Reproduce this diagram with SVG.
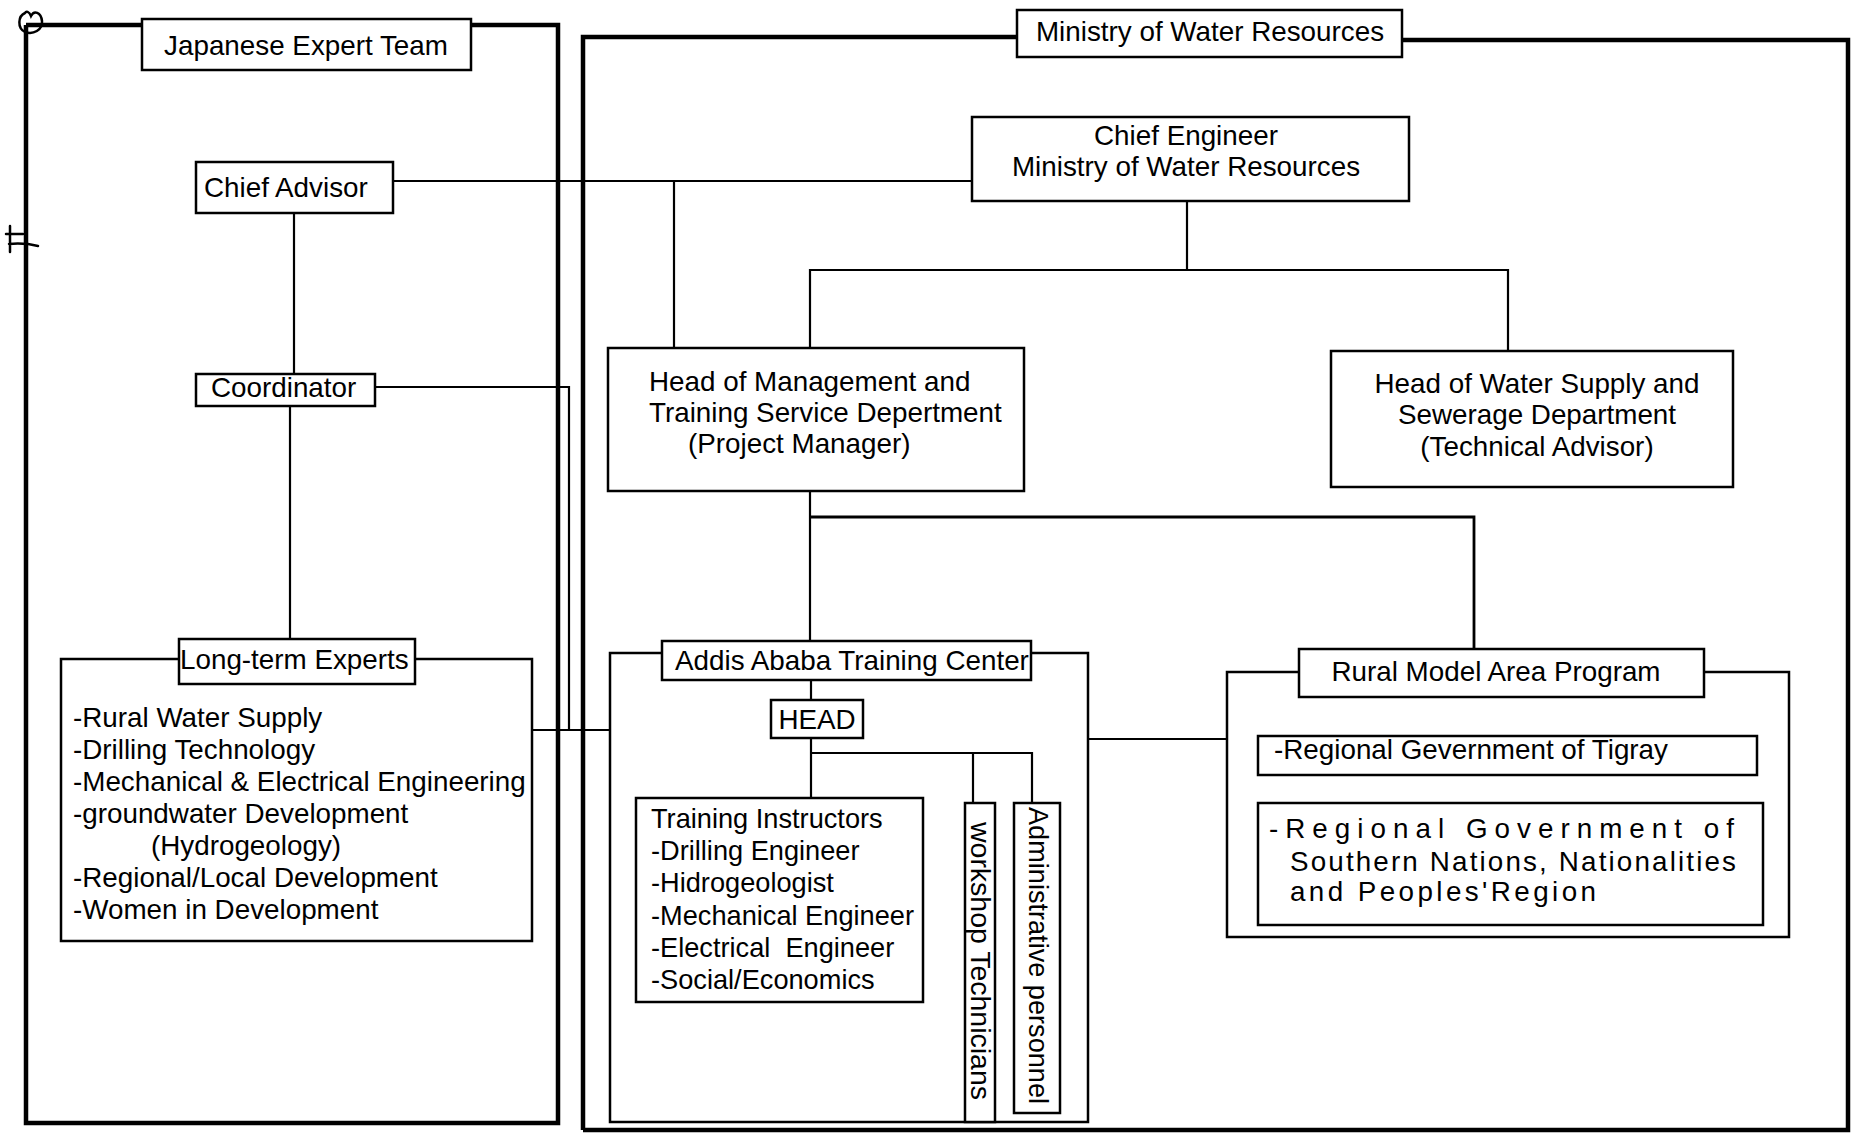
<svg xmlns="http://www.w3.org/2000/svg" width="1854" height="1135" viewBox="0 0 1854 1135">
<style>
  text { font-family: "Liberation Sans", Arial, sans-serif; font-size: 27.8px; fill: #000; }
  .c { text-anchor: middle; }
  .ti { font-size: 27.2px; }
  .box { fill: #fff; stroke: #000; stroke-width: 2.5; }
  .frame { fill: none; stroke: #000; stroke-width: 2.5; }
  .thick { fill: none; stroke: #000; stroke-width: 4.5; }
  .conn { fill: none; stroke: #000; stroke-width: 2.2; }
  .mark { fill: none; stroke: #000; stroke-width: 2.5; stroke-linecap: round; }
</style>
<rect width="1854" height="1135" fill="#fff"/>

<!-- Outer frames -->
<g id="japanese-frame">
  <path class="thick" d="M26 25 H142 M471 25 H558 V1123 H26 V25"/>
</g>
<g id="ministry-frame">
  <path class="thick" d="M583 1130 V37 H1017 M1402 40 H1848 V1130 H583"/>
</g>

<!-- stray pen marks -->
<g id="marks">
  <path class="mark" d="M25 13 C18 16 17 28 25 32 C33 35 43 30 42 21 C41 12 34 10 31 16 C29 11 26 11 25 13"/>
  <path class="mark" d="M10 226 V252 M6 234 H23 M9 244 C20 243 30 244 38 246"/>
</g>

<!-- Connectors -->
<g id="connectors">
  <path class="conn" d="M393 181 H972"/>
  <path class="conn" d="M674 181 V348"/>
  <path class="conn" d="M294 213 V374"/>
  <path class="conn" d="M290 406 V639"/>
  <path class="conn" d="M375 387 H569 V730"/>
  <path class="conn" d="M532 730 H610"/>
  <path class="conn" d="M1187 201 V270"/>
  <path class="conn" d="M810 348 V270 H1508 V351"/>
  <path class="conn" d="M810 491 V641"/>
  <path class="conn" style="stroke-width:2.8" d="M810 517 H1474 V649"/>
  <path class="conn" d="M811 680 V700"/>
  <path class="conn" d="M811 738 V798"/>
  <path class="conn" d="M811 753 H1032 V803"/>
  <path class="conn" d="M973 753 V803"/>
  <path class="conn" d="M1088 739 H1227"/>
</g>

<!-- Japanese side -->
<g id="japanese-expert-team">
  <rect class="box" x="142" y="19" width="329" height="51"/>
  <text class="c" x="306" y="55">Japanese Expert Team</text>
</g>
<g id="chief-advisor">
  <rect class="box" x="196" y="162" width="197" height="51"/>
  <text x="204" y="197">Chief Advisor</text>
</g>
<g id="coordinator">
  <rect class="box" x="196" y="374" width="179" height="32"/>
  <text x="211" y="397">Coordinator</text>
</g>
<g id="long-term-experts">
  <path class="frame" d="M179 659 H61 V941 H532 V659 H415"/>
  <rect class="box" x="179" y="639" width="236" height="45"/>
  <text x="180" y="669">Long-term Experts</text>
  <text x="73" y="727">-Rural Water Supply</text>
  <text x="73" y="759">-Drilling Technology</text>
  <text x="73" y="791">-Mechanical &amp; Electrical Engineering</text>
  <text x="73" y="823">-groundwater Development</text>
  <text x="151" y="855">(Hydrogeology)</text>
  <text x="73" y="887">-Regional/Local Development</text>
  <text x="73" y="919">-Women in Development</text>
</g>

<!-- Ministry side -->
<g id="ministry-of-water-resources">
  <rect class="box" x="1017" y="10" width="385" height="47"/>
  <text class="c" x="1210" y="41">Ministry of Water Resources</text>
</g>
<g id="chief-engineer">
  <rect class="box" x="972" y="117" width="437" height="84"/>
  <text class="c" x="1186" y="145">Chief Engineer</text>
  <text class="c" x="1186" y="176">Ministry of Water Resources</text>
</g>
<g id="head-management">
  <rect class="box" x="608" y="348" width="416" height="143"/>
  <text x="649" y="391">Head of Management and</text>
  <text x="649" y="422">Training Service Depertment</text>
  <text x="688" y="453">(Project Manager)</text>
</g>
<g id="head-water-supply">
  <rect class="box" x="1331" y="351" width="402" height="136"/>
  <text class="c" x="1537" y="393">Head of Water Supply and</text>
  <text class="c" x="1537" y="424">Sewerage Department</text>
  <text class="c" x="1537" y="456">(Technical Advisor)</text>
</g>

<g id="addis-ababa-training-center">
  <path class="frame" d="M662 653 H610 V1122 H1088 V653 H1031"/>
  <rect class="box" x="662" y="641" width="369" height="39"/>
  <text x="675" y="670">Addis Ababa Training Center</text>
</g>
<g id="head">
  <rect class="box" x="771" y="700" width="92" height="38"/>
  <text class="c" x="817" y="729">HEAD</text>
</g>
<g id="training-instructors">
  <rect class="box" x="636" y="798" width="287" height="204"/>
  <text class="ti" x="651" y="828">Training Instructors</text>
  <text class="ti" x="651" y="860">-Drilling Engineer</text>
  <text class="ti" x="651" y="892">-Hidrogeologist</text>
  <text class="ti" x="651" y="925">-Mechanical Engineer</text>
  <text class="ti" x="651" y="957" xml:space="preserve">-Electrical  Engineer</text>
  <text class="ti" x="651" y="989">-Social/Economics</text>
</g>
<g id="workshop-technicians">
  <rect class="box" x="965" y="803" width="30" height="319"/>
  <text transform="translate(971,822) rotate(90)" textLength="278" lengthAdjust="spacingAndGlyphs">workshop Technicians</text>
</g>
<g id="administrative-personnel">
  <rect class="box" x="1014" y="803" width="46" height="310"/>
  <text transform="translate(1029,807) rotate(90)" textLength="297" lengthAdjust="spacingAndGlyphs">Administrative personnel</text>
</g>

<g id="rural-model-area-program">
  <path class="frame" d="M1299 672 H1227 V937 H1789 V672 H1704"/>
  <rect class="box" x="1299" y="649" width="405" height="48"/>
  <text class="c" x="1496" y="681">Rural Model Area Program</text>
</g>
<g id="tigray">
  <rect class="box" x="1258" y="736" width="499" height="39"/>
  <text x="1274" y="759">-Regional Gevernment of Tigray</text>
</g>
<g id="southern-nations">
  <rect class="box" x="1258" y="803" width="505" height="122"/>
  <text x="1269" y="838" textLength="465" lengthAdjust="spacing">-Regional Government of</text>
  <text x="1290" y="871" textLength="446" lengthAdjust="spacing">Southern Nations, Nationalities</text>
  <text x="1290" y="901" textLength="306" lengthAdjust="spacing">and Peoples'Region</text>
</g>
</svg>
